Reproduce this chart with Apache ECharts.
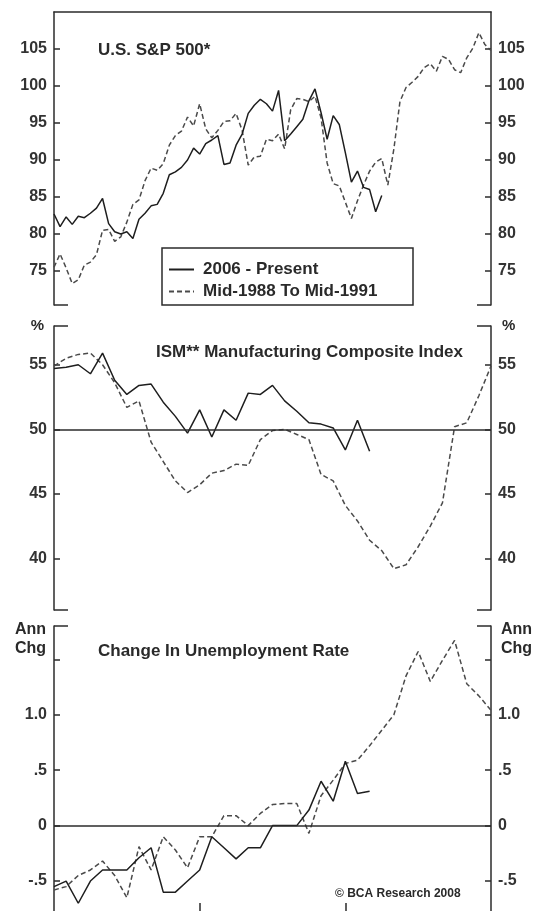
<!DOCTYPE html>
<html><head><meta charset="utf-8">
<script src="https://cdn.jsdelivr.net/npm/echarts@6/dist/echarts.min.js"></script>
<style>html,body{margin:0;padding:0;background:#fff}#c{width:534px;height:911px}</style>
</head><body><div id="c"></div>
<script>
// ---- data (half-month steps for S&P, monthly for ISM / unemployment) ----
const spx2006 = [82.7,81.0,82.3,81.3,82.4,82.2,82.8,83.5,84.8,81.4,80.3,80.0,80.3,79.4,82.0,82.8,83.8,84.0,85.5,88.0,88.4,89.0,90.0,91.6,90.8,92.2,92.7,93.3,89.4,89.6,92.0,93.5,96.3,97.4,98.2,97.6,96.6,99.4,92.6,93.5,94.5,95.5,98.0,99.6,96.4,92.8,96.0,94.8,91.0,87.0,88.5,86.3,86.0,83.0,85.2];
const spx1988 = [75.5,77.3,75.4,73.3,73.8,75.8,76.2,77.2,80.5,80.6,79.0,79.6,81.6,84.0,84.6,87.2,88.9,88.6,89.5,92.0,93.3,93.9,95.8,94.6,97.6,94.2,93.0,94.0,95.2,95.3,96.3,94.0,89.3,90.4,90.5,92.8,92.6,93.5,91.5,96.8,98.3,98.2,97.9,98.6,95.7,89.6,86.8,86.5,84.3,82.1,84.5,86.6,88.5,89.7,90.2,86.6,91.5,97.9,99.8,100.5,101.3,102.5,103.0,102.0,104.0,103.6,102.2,101.8,103.8,105.1,107.2,105.6,104.8];
const ism2006 = [54.7,54.8,55.0,54.3,55.9,53.8,52.7,53.4,53.5,52.1,51.0,49.7,51.5,49.4,51.5,50.7,52.8,52.7,53.4,52.2,51.4,50.5,50.4,50.1,48.4,50.7,48.3];
const ism1988 = [54.9,55.5,55.8,55.9,55.0,53.6,51.7,52.2,49.0,47.5,46.0,45.1,45.7,46.6,46.8,47.3,47.2,49.2,49.9,50.0,49.6,49.2,46.5,46.0,44.1,42.9,41.4,40.6,39.2,39.5,40.9,42.5,44.3,50.2,50.5,52.6,54.9];
const unemp2006 = [-0.55,-0.50,-0.70,-0.50,-0.40,-0.40,-0.40,-0.29,-0.20,-0.60,-0.60,-0.50,-0.40,-0.10,-0.20,-0.30,-0.20,-0.20,0,0,0,0.14,0.40,0.22,0.58,0.29,0.31];
const unemp1988 = [-0.58,-0.55,-0.45,-0.40,-0.32,-0.45,-0.65,-0.19,-0.40,-0.10,-0.22,-0.38,-0.10,-0.10,0.09,0.09,0.0,0.11,0.19,0.20,0.20,-0.07,0.27,0.41,0.56,0.59,0.72,0.86,1.0,1.35,1.57,1.30,1.49,1.67,1.28,1.17,1.04];
const seriesNames = ['2006 - Present','Mid-1988 To Mid-1991'];
const spxTicks = [75,80,85,90,95,100,105];
const ismTicks = [40,45,50,55];
const unempTicks = [-0.5,0,0.5,1.0,1.5];
const unempTickLabels = ['-.5','0','.5','1.0',''];
const xYearTicks = [12,24];
const panelTitles = ['U.S. S&P 500*','ISM** Manufacturing Composite Index','Change In Unemployment Rate'];

// ---- layout ----
const FONT = '"Liberation Sans", Arial, sans-serif';
const INK = '#2b2b2b';
const L = 54, R = 491;
const panels = [
  {top: 12, bottom: 305, min: 70.4, max: 110, ticks: spxTicks},
  {top: 326, bottom: 610, min: 36, max: 58, ticks: ismTicks},
  {top: 626, bottom: 911, min: -0.77, max: 1.8, ticks: unempTicks}
];
const idx = a => a.map((v, i) => [i, v]);

const solid = {color: '#1e1e1e', width: 1.5, type: 'solid'};
const dashed = {color: '#4a4a4a', width: 1.5, type: [5, 3]};

const grids = panels.map(p => ({left: L, right: 534 - R, top: p.top, height: p.bottom - p.top, containLabel: false}));

const hiddenX = (gi, max) => ({type: 'value', gridIndex: gi, min: 0, max: max,
  axisLine: {show: false, onZero: false}, axisTick: {show: false}, axisLabel: {show: false}, splitLine: {show: false}});

const xAxes = [
  hiddenX(0, 72),
  {type: 'value', gridIndex: 0, position: 'top', min: 0, max: 72,
    axisLine: {show: true, onZero: false, lineStyle: {color: INK, width: 1.5}},
    axisTick: {show: false}, axisLabel: {show: false}, splitLine: {show: false}},
  hiddenX(1, 36),
  {type: 'value', gridIndex: 2, position: 'bottom', min: 0, max: 36,
    axisLine: {show: false, onZero: false}, axisLabel: {show: false}, splitLine: {show: false},
    axisTick: {show: true, inside: true, length: 8, customValues: xYearTicks, lineStyle: {color: INK, width: 1.5}}}
];

function yAx(gi, pos, p, fmt) {
  return {type: 'value', gridIndex: gi, position: pos, min: p.min, max: p.max,
    axisLine: {show: true, onZero: false, lineStyle: {color: INK, width: 1.5}},
    axisTick: {show: true, inside: true, length: 6, customValues: p.ticks, lineStyle: {color: INK, width: 1.5}},
    axisLabel: {show: true, customValues: p.ticks, margin: 7, color: '#333', fontFamily: FONT, fontSize: 16, fontWeight: 'bold', formatter: fmt},
    splitLine: {show: false}};
}
const unempFmt = v => { const k = unempTicks.findIndex(t => Math.abs(t - v) < 1e-6); return k >= 0 ? unempTickLabels[k] : ''; };
const yAxes = [
  yAx(0, 'left', panels[0]), yAx(0, 'right', panels[0]),
  yAx(1, 'left', panels[1]), yAx(1, 'right', panels[1]),
  yAx(2, 'left', panels[2], unempFmt), yAx(2, 'right', panels[2], unempFmt)
];

const refLine = v => ({silent: true, symbol: ['none', 'none'], label: {show: false},
  lineStyle: {type: 'solid', color: INK, width: 1.5}, data: [{yAxis: v}]});

const mk = (name, data, xi, yi, ls, extra) => Object.assign({
  type: 'line', name: name, data: idx(data), xAxisIndex: xi, yAxisIndex: yi,
  showSymbol: false, symbol: 'none', lineStyle: ls, itemStyle: {color: ls.color}, z: ls.type === 'solid' ? 3 : 2
}, extra || {});

const series = [
  mk(seriesNames[0], spx2006, 0, 0, solid),
  mk(seriesNames[1], spx1988, 0, 0, dashed),
  mk(seriesNames[0], ism2006, 2, 2, solid, {markLine: refLine(50)}),
  mk(seriesNames[1], ism1988, 2, 2, dashed),
  mk(seriesNames[0], unemp2006, 3, 4, solid, {markLine: refLine(0)}),
  mk(seriesNames[1], unemp1988, 3, 4, dashed)
];

const txt = (text, x, y, size, align, extra) => Object.assign({type: 'text', silent: true, z: 10,
  style: {text: text, x: x, y: y, fill: '#2a2a2a', font: 'bold ' + size + 'px ' + FONT, textAlign: align || 'left', textVerticalAlign: 'middle'}}, extra || {});
const seg = (x1, y1, x2, y2) => ({type: 'line', silent: true, z: 10,
  shape: {x1: x1, y1: y1, x2: x2, y2: y2}, style: {stroke: INK, lineWidth: 1.5}});
const STUB = 14;
const graphic = [
  txt(panelTitles[0], 98, 50, 17),
  txt(panelTitles[1], 156, 352, 17),
  txt(panelTitles[2], 98, 651, 17),
  txt('\u00A9 BCA Research 2008', 335, 894, 12),
  txt('%', 44, 326, 15, 'right'),
  txt('%', 502, 326, 15, 'left'),
  txt('Ann', 46, 630, 16, 'right'), txt('Chg', 46, 649, 16, 'right'),
  txt('Ann', 501, 630, 16, 'left'), txt('Chg', 501, 649, 16, 'left'),
  seg(L, panels[0].bottom, L + STUB, panels[0].bottom), seg(R - STUB, panels[0].bottom, R, panels[0].bottom),
  seg(L, panels[1].top, L + STUB, panels[1].top), seg(R - STUB, panels[1].top, R, panels[1].top),
  seg(L, panels[1].bottom, L + STUB, panels[1].bottom), seg(R - STUB, panels[1].bottom, R, panels[1].bottom),
  seg(L, panels[2].top, L + STUB, panels[2].top), seg(R - STUB, panels[2].top, R, panels[2].top),
  {type: 'rect', silent: true, z: 9, shape: {x: 162, y: 248, width: 251, height: 57},
    style: {fill: '#fff', stroke: INK, lineWidth: 1.5}}
];

const chart = echarts.init(document.getElementById('c'), null, {renderer: 'canvas'});
chart.setOption({
  animation: false,
  backgroundColor: '#fff',
  grid: grids,
  xAxis: xAxes,
  yAxis: yAxes,
  legend: {data: seriesNames, orient: 'vertical', left: 168, top: 261, padding: 0, itemWidth: 25, itemHeight: 14, itemGap: 5,
    z: 20, selectedMode: false, itemStyle: {opacity: 0},
    textStyle: {fontFamily: FONT, fontSize: 17, fontWeight: 'bold', color: '#2a2a2a', padding: [0, 0, 0, 4]}},
  graphic: graphic,
  series: series
});
</script></body></html>
